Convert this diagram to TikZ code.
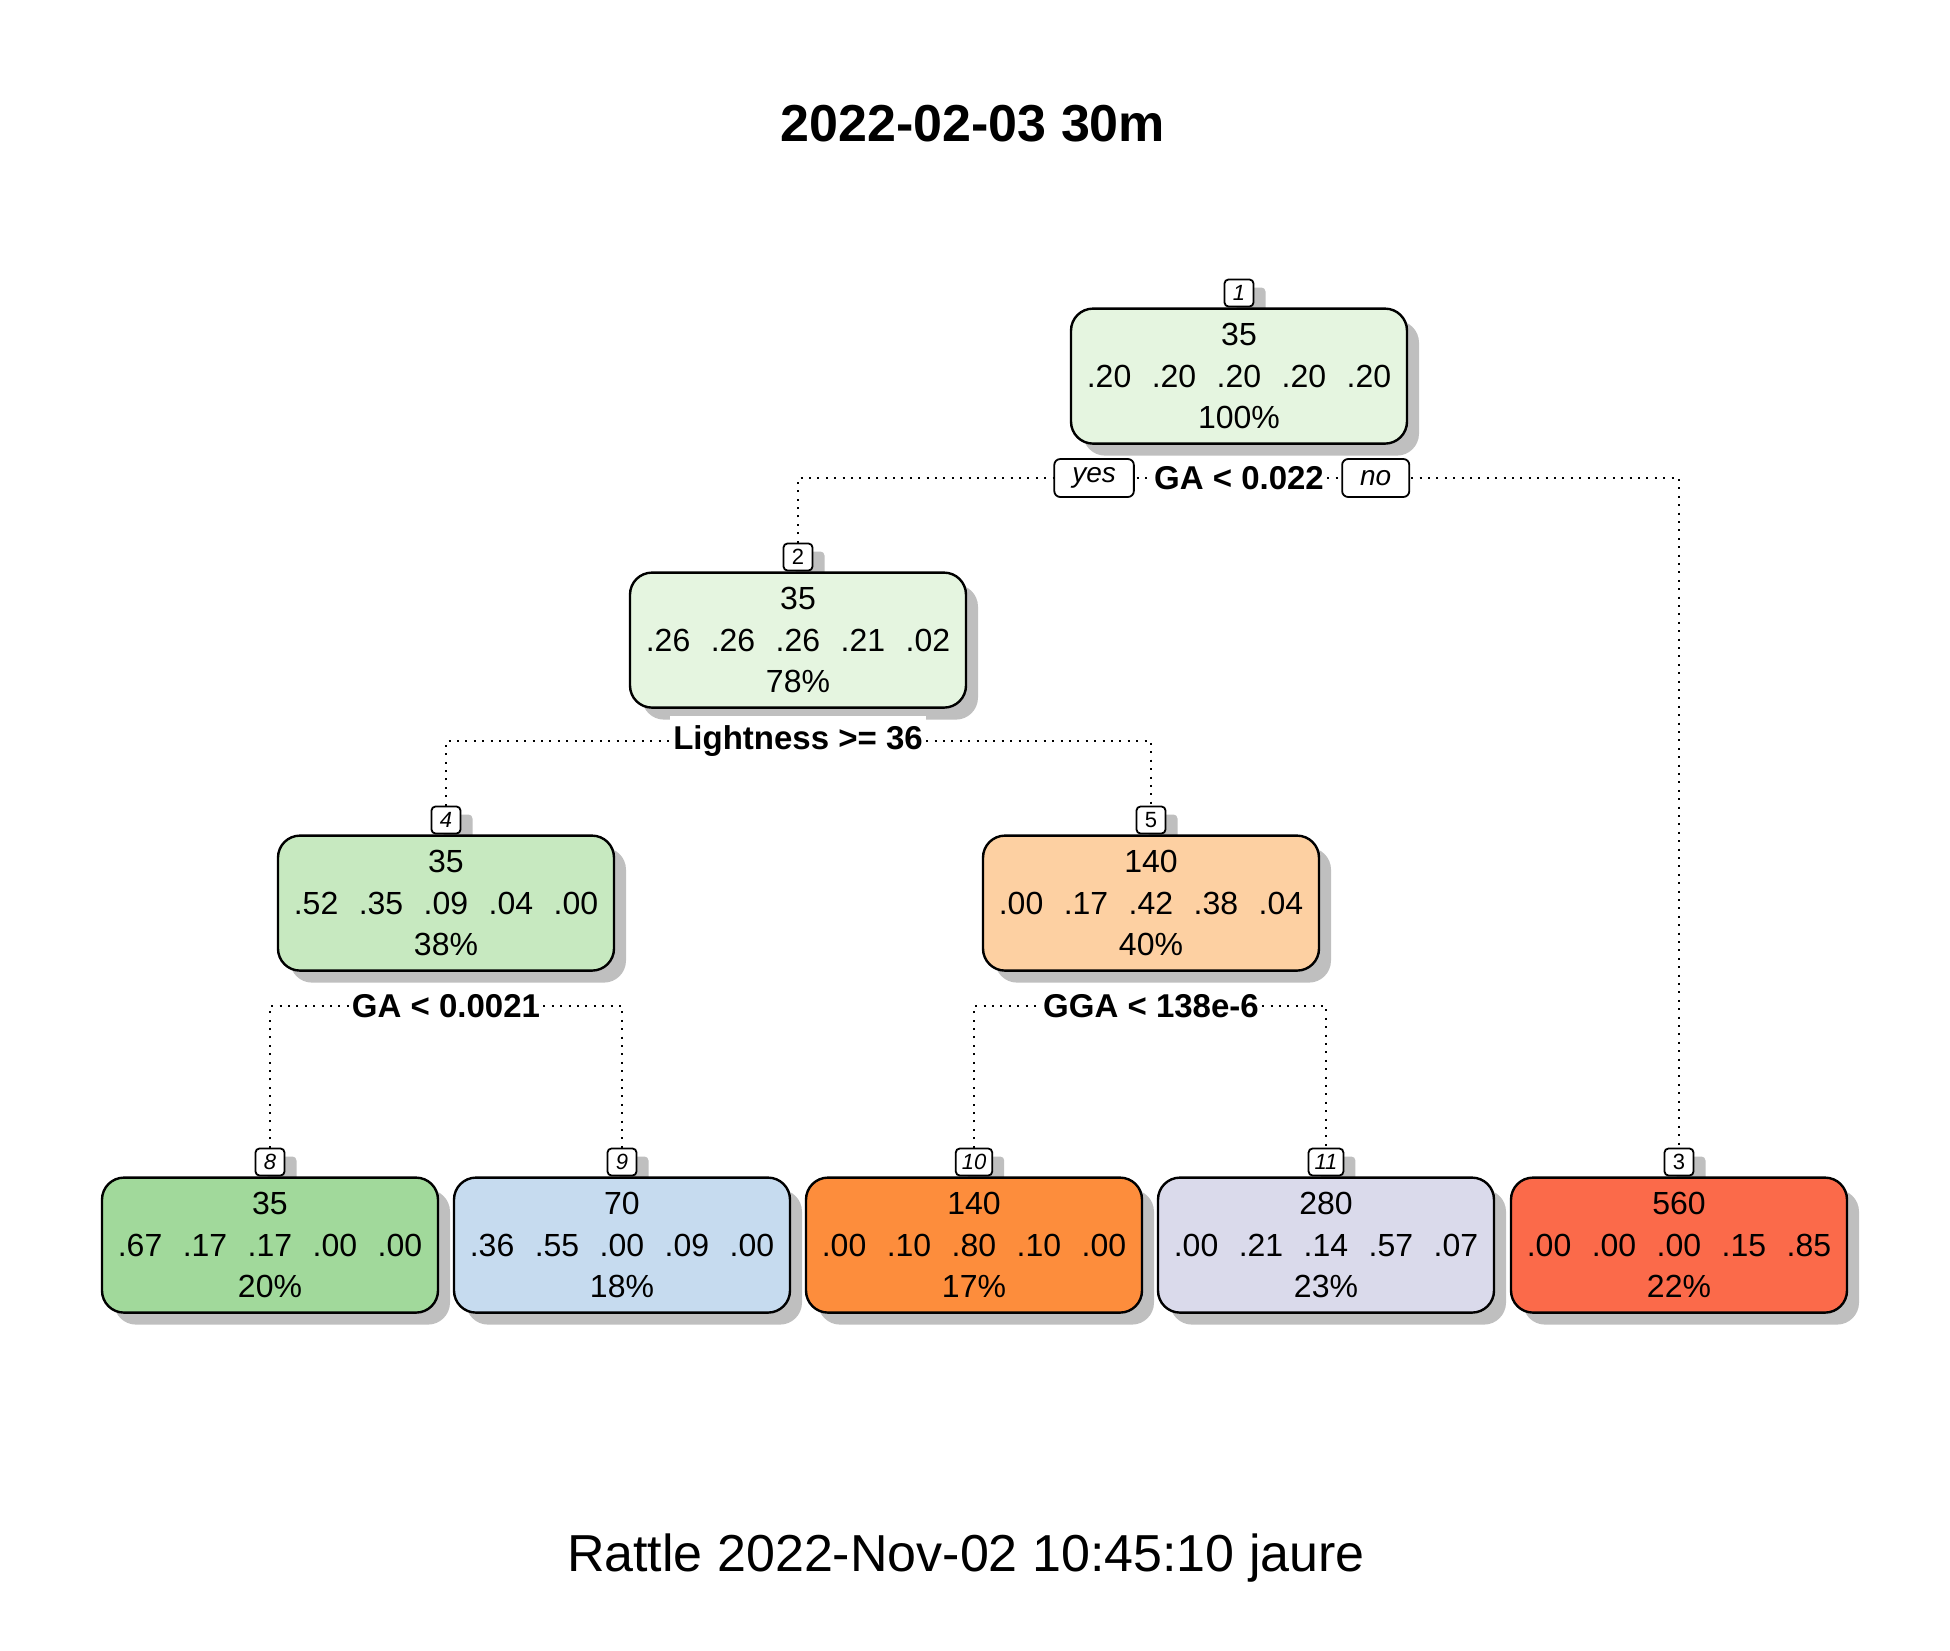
\documentclass[tikz,border=0pt]{standalone}
\usepackage{fontspec}
\setmainfont{Liberation Sans}
\usepackage{xcolor}
\usepackage{tikz}
\usetikzlibrary{positioning,shadows,backgrounds}
\definecolor{grnpale}{HTML}{E5F5E0}
\definecolor{grnlight}{HTML}{C7E9C0}
\definecolor{grnmid}{HTML}{A1D99B}
\definecolor{bluelight}{HTML}{C6DBEF}
\definecolor{orglight}{HTML}{FDD0A2}
\definecolor{orgmid}{HTML}{FD8D3C}
\definecolor{purplight}{HTML}{DADAEB}
\definecolor{redmid}{HTML}{FB6A4A}
\newcommand{\pg}{\hspace{0.64em}}

\begin{document}
\begin{tikzpicture}[x=0.5pt, y=-0.5pt,
        leaf/.style={rectangle, draw, line width=1.2pt, rounded corners=11pt, minimum width=168pt, minimum height=67.5pt, align=center, font=\fontsize{16}{20.75}\selectfont, drop shadow={shadow xshift=6pt, shadow yshift=-6pt, fill=black!25, opacity=1}},
        tag/.style={rectangle, draw, fill=white, line width=0.9pt, rounded corners=2pt, minimum width=14.5pt, minimum height=13.5pt, inner xsep=3pt, inner ysep=0pt, font=\fontsize{11}{12}\selectfont\itshape, drop shadow={shadow xshift=6pt, shadow yshift=-4pt, fill=black!25, opacity=1}},
        split/.style={fill=white, inner xsep=1.5pt, inner ysep=5pt, font=\fontsize{16.5}{19}\selectfont\bfseries},
        answer/.style={rectangle, draw, fill=white, line width=0.9pt, rounded corners=3pt, minimum height=19pt, inner xsep=9pt, inner ysep=0pt, font=\fontsize{14}{16}\selectfont\itshape},
        link/.style={line width=1pt, dash pattern=on 1pt off 3.2pt}
    ]
        \useasboundingbox (0,0) rectangle (1950,1650);

        % Title
        \node[font=\fontsize{26}{30}\selectfont\bfseries] (title) at (973,124) {2022-02-03 30m};

        % Root
        \node[tag] (t1) at (1239,293) {1};
        \node[leaf, fill=grnpale, below=0pt of t1] (n1) {35\\.20\pg.20\pg.20\pg.20\pg.20\\100\%};
        \node[split] (s1) at (1239,478) {GA < 0.022};
        \node[answer, left=8pt of s1] (yes) {yes};
        \node[answer, right=7pt of s1] (no) {no};

        % Node 2
        \node[tag] (t2) at (798,557) {\upshape 2};
        \node[leaf, fill=grnpale, below=0pt of t2] (n2) {35\\.26\pg.26\pg.26\pg.21\pg.02\\78\%};
        \node[split] (s2) at (798,741) {Lightness >= 36};

        % Node 4
        \node[tag] (t4) at (446,820) {4};
        \node[leaf, fill=grnlight, below=0pt of t4] (n4) {35\\.52\pg.35\pg.09\pg.04\pg.00\\38\%};
        \node[split] (s4) at (446,1006) {GA < 0.0021};

        % Node 5
        \node[tag] (t5) at (1151,820) {\upshape 5};
        \node[leaf, fill=orglight, below=0pt of t5] (n5) {140\\.00\pg.17\pg.42\pg.38\pg.04\\40\%};
        \node[split] (s5) at (1151,1006) {GGA < 138e-6};

        % Leaves
        \node[tag] (t8) at (270,1162) {8};
        \node[leaf, fill=grnmid, below=0pt of t8] (n8) {35\\.67\pg.17\pg.17\pg.00\pg.00\\20\%};

        \node[tag] (t9) at (622,1162) {9};
        \node[leaf, fill=bluelight, below=0pt of t9] (n9) {70\\.36\pg.55\pg.00\pg.09\pg.00\\18\%};

        \node[tag] (t10) at (974,1162) {10};
        \node[leaf, fill=orgmid, below=0pt of t10] (n10) {140\\.00\pg.10\pg.80\pg.10\pg.00\\17\%};

        \node[tag] (t11) at (1326,1162) {11};
        \node[leaf, fill=purplight, below=0pt of t11] (n11) {280\\.00\pg.21\pg.14\pg.57\pg.07\\23\%};

        \node[tag] (t3) at (1679,1162) {\upshape 3};
        \node[leaf, fill=redmid, below=0pt of t3] (n3) {560\\.00\pg.00\pg.00\pg.15\pg.85\\22\%};

        % Footer
        \node[font=\fontsize{26}{30}\selectfont] (footer) at (966,1558) {Rattle 2022-Nov-02 10:45:10 jaure};

        % Branches
        \begin{scope}[on background layer]
            \draw[link] (t2.north) |- (s1) -| (t3.north);
            \draw[link] (t4.north) |- (s2) -| (t5.north);
            \draw[link] (t8.north) |- (s4) -| (t9.north);
            \draw[link] (t10.north) |- (s5) -| (t11.north);
        \end{scope}
    \end{tikzpicture}
\end{document}
